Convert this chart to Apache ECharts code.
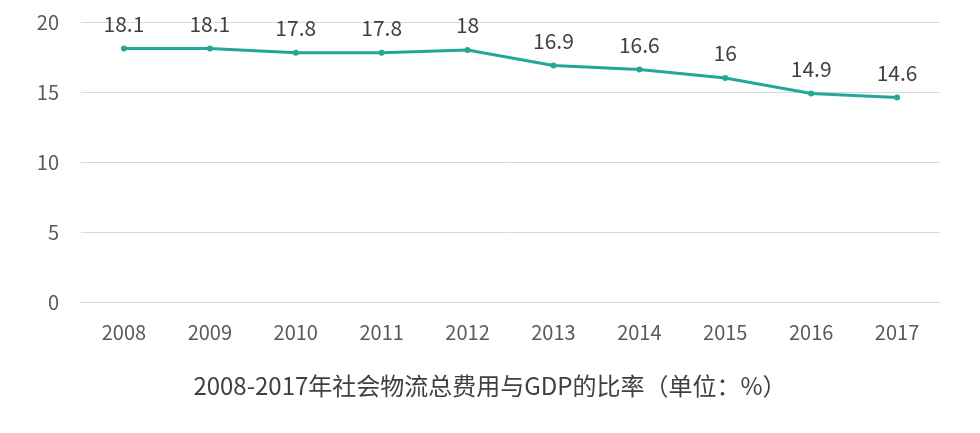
<!DOCTYPE html>
<html><head><meta charset="utf-8">
<script src="https://cdn.jsdelivr.net/npm/echarts@6/dist/echarts.min.js"></script>
<style>html,body{margin:0;padding:0;background:#fff}#c{width:980px;height:433px}</style>
</head><body><div id="c"></div>
<script>
const categories = ['2008','2009','2010','2011','2012','2013','2014','2015','2016','2017'];
const values = [18.1, 18.1, 17.8, 17.8, 18, 16.9, 16.6, 16, 14.9, 14.6];
const titleText = '2008-2017年社会物流总费用与GDP的比率（单位：%）';
const font = '"Noto Sans CJK SC", "Noto Sans", sans-serif';
const chart = echarts.init(document.getElementById('c'));
chart.setOption({
  animation: false,
  textStyle: { fontFamily: font },
  title: {
    text: titleText, left: 'center', top: 369,
    textStyle: { fontFamily: font, fontSize: 24, fontWeight: 'normal', color: '#404040' }
  },
  grid: { left: 81, right: 40, top: 22, bottom: 131 },
  xAxis: {
    type: 'category', data: categories,
    axisLine: { show: true, lineStyle: { color: '#d9d9d9' } },
    axisTick: { show: false },
    axisLabel: { fontFamily: font, fontSize: 20, color: '#595959', margin: 20 }
  },
  yAxis: {
    type: 'value', min: 0, max: 20, interval: 5,
    axisLine: { show: false }, axisTick: { show: false },
    splitLine: { lineStyle: { color: '#d9d9d9' } },
    axisLabel: { fontFamily: font, fontSize: 20, color: '#595959', margin: 22 }
  },
  series: [{
    type: 'line', data: values,
    symbol: 'circle', symbolSize: 6,
    lineStyle: { color: '#26a69a', width: 3 },
    itemStyle: { color: '#26a69a' },
    label: { show: true, position: 'top', distance: 11, fontFamily: font, fontSize: 21, color: '#404040' }
  }]
});
</script></body></html>
